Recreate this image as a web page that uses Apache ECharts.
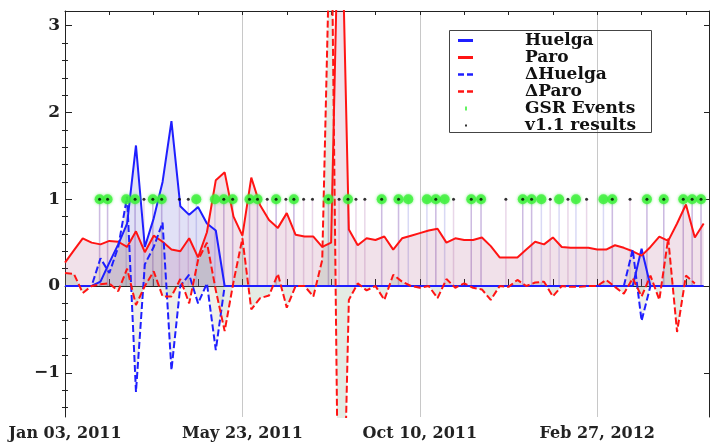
<!DOCTYPE html>
<html><head><meta charset="utf-8">
<script src="https://cdn.jsdelivr.net/npm/echarts@6/dist/echarts.min.js"></script>
<style>html,body{margin:0;padding:0;background:#fff}#c{width:712px;height:444px}</style>
</head><body><div id="c"></div>
<script>
// x = week index counted from Jan 03, 2011
const tickWeeks = [0, 20, 40, 60];
const tickLabels = ['Jan 03, 2011', 'May 23, 2011', 'Oct 10, 2011', 'Feb 27, 2012'];
const yMajorTicks = [-1, 0, 1, 2, 3];
const yMinorTicks = [-1.4,-1.2,-0.8,-0.6,-0.4,-0.2,0.2,0.4,0.6,0.8,1.2,1.4,1.6,1.8,2.2,2.4,2.6,2.8];

const huelga = [0,0,0,0,0.05,0.27,0.48,0.72,1.62,0.45,0.78,1.2,1.9,0.92,0.82,0.91,0.72,0.64,0,0,
  0,0,0,0,0,0,0,0,0,0,0,0,0,0,0,0,0,0,0,0,
  0,0,0,0,0,0,0,0,0,0,0,0,0,0,0,0,0,0,0,0,
  0,0,0,0,0,0.43,0,0,0,0,0,0,0];
const paro = [0.27,0.41,0.55,0.50,0.48,0.52,0.51,0.45,0.63,0.39,0.58,0.51,0.42,0.40,0.55,0.33,0.62,1.22,1.31,0.80,
  0.58,1.25,0.93,0.76,0.67,0.84,0.59,0.57,0.57,0.45,0.50,5.2,0.65,0.47,0.55,0.53,0.57,0.42,0.55,0.58,
  0.61,0.64,0.66,0.50,0.55,0.53,0.53,0.56,0.46,0.33,0.33,0.33,0.42,0.51,0.48,0.56,0.45,0.44,0.44,0.44,
  0.42,0.42,0.47,0.44,0.40,0.35,0.45,0.57,0.52,0.72,0.94,0.56,0.72];
const dHuelga = [0,0,0,0,0.32,0.15,0.45,1.03,-1.22,0.25,0.45,0.73,-0.97,0,0.13,-0.2,0.03,-0.74,0,0,
  0,0,0,0,0,0,0,0,0,0,0,0,0,0,0,0,0,0,0,0,
  0,0,0,0,0,0,0,0,0,0,0,0,0,0,0,0,0,0,0,0,
  0,0,0,0,0.42,-0.40,0,0,0,0,0,0];
const dParo = [0.15,0.14,-0.08,0,0.02,0.03,-0.06,0.2,-0.22,0,0.17,-0.12,-0.12,0.08,-0.2,0.3,0.5,-0.05,-0.52,0.05,
  0.55,-0.27,-0.14,-0.11,0.14,-0.25,0,0,-0.12,0.3,4.7,-4.55,-0.16,0.03,-0.05,0,-0.16,0.13,0.05,0,
  -0.02,0,-0.14,0.08,-0.02,0.03,-0.02,-0.04,-0.16,0,-0.01,0.07,0,0.04,0.05,-0.12,0,-0.01,-0.01,0,
  0,0.07,-0.01,-0.09,0.09,-0.12,0.12,-0.16,0.55,-0.53,0.12,0.03];
const gsrEvents = [3.9,4.8,6.9,7.9,9.9,10.9,14.8,16.9,17.9,18.9,20.8,21.7,23.8,25.8,29.7,31.9,35.7,37.6,38.7,
  40.8,41.8,42.8,45.8,46.9,51.6,52.6,53.7,55.7,57.6,60.7,61.7,65.6,67.5,69.7,70.7,71.7];
const v11Results = [3.9,4.8,7.9,8.9,9.9,10.9,12.9,13.9,17.9,18.9,20.8,21.7,22.8,23.8,24.9,25.8,26.9,27.9,29.7,
  30.9,31.9,32.8,33.8,35.7,37.6,41.8,43.8,45.8,46.9,49.7,51.6,52.6,54.7,56.7,58.8,61.7,63.7,65.6,67.5,69.7,70.7,71.7];
const eventLevel = 1;

const toPairs = arr => arr.map((v, i) => [i, v]);
const serif = 'DejaVu Serif';
const frame = '#222';
const X_MIN = 0, X_MAX = 72.6, Y_MIN = -1.51, Y_MAX = 3.17;

const solidIcon = 'path://M0,0M16,10M0,3.5h15v3h-15z';
const dashIcon = 'path://M0,0M16,10M0,3.8h6v2.4h-6zM9,3.8h6v2.4h-6z';
const tickIcon = 'path://M0,0M16,10M7,3h2v4h-2z';
const dotIcon = 'path://M0,0M16,10M7,4h2v2h-2z';

const chart = echarts.init(document.getElementById('c'), null, {renderer: 'canvas'});
const baseX = {type: 'value', min: X_MIN, max: X_MAX, splitLine: {show: false}};
const baseY = {type: 'value', min: Y_MIN, max: Y_MAX, splitLine: {show: false}};
chart.setOption({
  animation: false,
  backgroundColor: '#fff',
  grid: {left: 65, top: 11, right: 2, bottom: 27},
  xAxis: [
    Object.assign({}, baseX, {position: 'bottom', interval: 5,
      axisLine: {show: true, lineStyle: {color: frame, width: 1}},
      axisTick: {show: true, inside: true, length: 7, lineStyle: {color: frame}},
      axisLabel: {margin: 9, fontFamily: serif, fontWeight: 'bold', fontSize: 16, color: '#222',
        formatter: v => { const k = tickWeeks.indexOf(v); return k >= 0 ? tickLabels[k] : ''; }}}),
    Object.assign({}, baseX, {position: 'top', interval: 5,
      axisLine: {show: true, onZero: false, lineStyle: {color: frame, width: 1}},
      axisTick: {show: true, inside: true, length: 4, lineStyle: {color: frame}},
      axisLabel: {show: false}}),
    Object.assign({}, baseX, {position: 'bottom', interval: 20,
      axisLine: {show: false}, axisTick: {show: false}, axisLabel: {show: false},
      splitLine: {show: true, lineStyle: {color: '#c8c8c8', width: 1}}})
  ],
  yAxis: [
    Object.assign({}, baseY, {position: 'left',
      axisLine: {show: true, onZero: false, lineStyle: {color: frame, width: 1}},
      axisTick: {show: true, inside: true, length: 7, customValues: yMajorTicks, lineStyle: {color: frame}},
      axisLabel: {show: true, customValues: yMajorTicks, margin: 5, fontFamily: serif, fontWeight: 'bold',
        fontSize: 17, color: '#222', formatter: v => String(v).replace('-', '\u2212')}}),
    Object.assign({}, baseY, {position: 'left',
      axisLine: {show: false},
      axisTick: {show: true, inside: true, length: 3, customValues: yMinorTicks, lineStyle: {color: frame}},
      axisLabel: {show: false}}),
    Object.assign({}, baseY, {position: 'right',
      axisLine: {show: true, onZero: false, lineStyle: {color: frame, width: 1}},
      axisTick: {show: true, inside: true, length: 5, customValues: yMajorTicks, lineStyle: {color: frame}},
      axisLabel: {show: false}}),
    Object.assign({}, baseY, {position: 'right',
      axisLine: {show: false},
      axisTick: {show: true, inside: true, length: 3, customValues: yMinorTicks, lineStyle: {color: frame}},
      axisLabel: {show: false}})
  ],
  legend: {
    orient: 'vertical', left: 458, top: 32, padding: 0, itemGap: 0, itemWidth: 16, itemHeight: 10,
    selectedMode: false,
    itemStyle: {borderWidth: 0},
    data: [
      {name: 'Huelga', icon: solidIcon},
      {name: 'Paro', icon: solidIcon},
      {name: '\u0394Huelga', icon: dashIcon},
      {name: '\u0394Paro', icon: dashIcon},
      {name: 'GSR Events', icon: tickIcon},
      {name: 'v1.1 results', icon: dotIcon}
    ],
    textStyle: {fontFamily: serif, fontWeight: 'bold', fontSize: 17, color: '#111', lineHeight: 16,
      padding: [0, 0, 0, 46]}
  },
  graphic: [{type: 'rect', left: 447, top: 28, z: 100, silent: true,
    shape: {width: 202, height: 102}, style: {fill: 'none', stroke: '#444', lineWidth: 1}}],
  series: [
    {name: 'gsrStem', type: 'bar', barWidth: 1.5, barGap: '-100%', silent: true, z: 1,
      itemStyle: {color: 'rgba(110,110,215,0.26)'}, data: gsrEvents.map(x => [x, eventLevel])},
    {name: 'v11Stem', type: 'bar', barWidth: 1.5, barGap: '-100%', silent: true, z: 1,
      itemStyle: {color: 'rgba(170,100,170,0.26)'}, data: v11Results.map(x => [x, eventLevel])},
    {name: 'Huelga', type: 'line', color: '#1f1fff', symbol: 'none', z: 2,
      lineStyle: {width: 2, color: '#1f1fff'}, areaStyle: {color: 'rgba(90,90,205,0.26)'},
      data: toPairs(huelga)},
    {name: 'Paro', type: 'line', color: '#ff1414', symbol: 'none', z: 2,
      lineStyle: {width: 2, color: '#ff1414'}, areaStyle: {color: 'rgba(165,60,120,0.22)'},
      data: toPairs(paro)},
    {name: '\u0394Huelga', type: 'line', color: '#1f1fff', symbol: 'none', z: 2,
      lineStyle: {width: 2, color: '#1f1fff', type: [7, 3]}, areaStyle: {color: 'rgba(150,150,100,0.2)'},
      data: toPairs(dHuelga)},
    {name: '\u0394Paro', type: 'line', color: '#ff1414', symbol: 'none', z: 2,
      lineStyle: {width: 2, color: '#ff1414', type: [7, 3]}, areaStyle: {color: 'rgba(100,150,100,0.25)'},
      data: toPairs(dParo)},
    {name: 'GSR Events', type: 'scatter', color: '#3cf03a', symbolSize: 10, z: 5,
      itemStyle: {color: '#3cf03a', shadowBlur: 3, shadowColor: 'rgba(60,240,58,0.8)'},
      data: gsrEvents.map(x => [x, eventLevel])},
    {name: 'v1.1 results', type: 'scatter', color: '#000', symbolSize: 3, z: 6,
      itemStyle: {color: '#000'}, data: v11Results.map(x => [x, eventLevel])}
  ]
});
</script></body></html>
